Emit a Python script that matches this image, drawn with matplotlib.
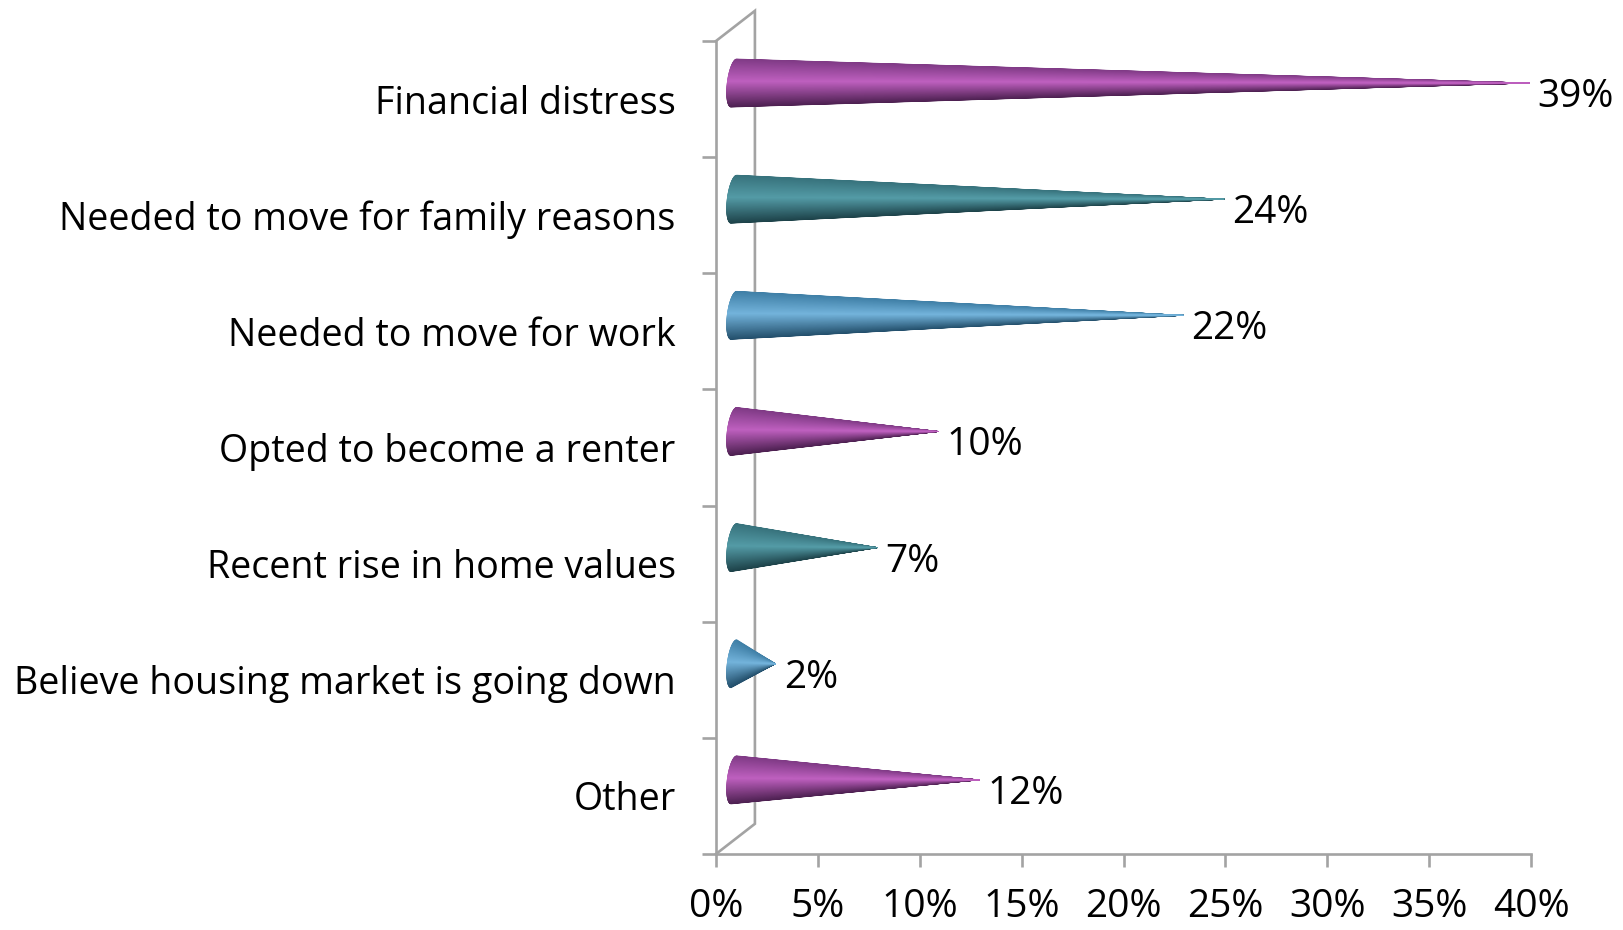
import numpy as np
import matplotlib
matplotlib.use('Agg')
import matplotlib.pyplot as plt
from matplotlib.collections import PolyCollection

plt.rcParams['font.family'] = ['Open Sans', 'DejaVu Sans']

categories = ['Financial distress', 'Needed to move for family reasons', 'Needed to move for work',
              'Opted to become a renter', 'Recent rise in home values',
              'Believe housing market is going down', 'Other']
values = [39, 24, 22, 10, 7, 2, 12]
x_ticks = [0, 5, 10, 15, 20, 25, 30, 35, 40]

# top edge, highlight, bottom edge of each cone
purple = ['#7f3a85', '#bd5fbe', '#4c2050']
teal = ['#37727c', '#539aa5', '#1d4249']
blue = ['#3f7fa6', '#72b2da', '#234f6b']
cone_colors = [purple, teal, blue, purple, teal, blue, purple]

GREY = '#a3a3a3'
DEPTH_X, DEPTH_Y = 1.91, 0.26  # fake 3d wall offset
TIP_X, CONE_Y = 0.92, 0.138
BASE_X = 0.88
HIGHLIGHT = -0.08


def shade(c, t):
    rgb = np.array([matplotlib.colors.to_rgb(k) for k in c])
    return [np.interp(t, [-1, HIGHLIGHT, 1], rgb[:, i]) for i in range(3)]


fig = plt.figure(figsize=(16.23, 9.3), dpi=100)
ax = fig.add_axes([716 / 1623, 1 - 854 / 930, 815 / 1623, 813 / 930])
ax.set_xlim(0, 40)
ax.set_ylim(7, 0)

# back wall
ax.plot([0, DEPTH_X, DEPTH_X, 0], [0, -DEPTH_Y, 7 - DEPTH_Y, 7], color=GREY, lw=1.9,
        clip_on=False, zorder=1, solid_joinstyle='miter')

# cones, made of thin slices running from the base to the tip
for i, (v, c) in enumerate(zip(values, cone_colors)):
    yc = i + 0.5 - CONE_Y
    ts = np.linspace(-1, 1, 201)
    bx = BASE_X - 0.33 * np.sqrt(1 - ts ** 2) - 0.14 * ts
    by = yc + 0.207 * ts
    mids = (ts[:-1] + ts[1:]) / 2
    # highlight goes last so the thin tip keeps the light colour
    order = np.argsort(-np.abs(mids - HIGHLIGHT))
    polys, cols = [], []
    for j in order:
        polys.append([(v + TIP_X, yc), (bx[j], by[j]), (bx[j + 1], by[j + 1])])
        cols.append(shade(c, mids[j]))
    ax.add_collection(PolyCollection(polys, facecolors=cols, edgecolors=cols, linewidths=0.5,
                                     clip_on=False, zorder=3))
    ax.annotate(f'{v}%', (v + TIP_X, yc), xytext=(6, -10), textcoords='offset points',
                ha='left', va='center', fontsize=28, color='black', annotation_clip=False)

for s in ['top', 'right']:
    ax.spines[s].set_visible(False)
for s in ['left', 'bottom']:
    ax.spines[s].set_color(GREY)
    ax.spines[s].set_linewidth(1.9)

ax.set_xticks(x_ticks)
ax.set_xticklabels([f'{t}%' for t in x_ticks], fontsize=28)
ax.tick_params(axis='x', length=9.5, width=1.9, color=GREY, pad=15)
ax.set_yticks(np.arange(8))
ax.set_yticklabels([])
ax.tick_params(axis='y', which='major', length=10, width=1.9, color=GREY)
ax.set_yticks(np.arange(7) + 0.5, minor=True)
ax.set_yticklabels(categories, minor=True, fontsize=27.1)
ax.tick_params(axis='y', which='minor', length=0, pad=29)

fig.savefig('out.png', dpi=100)
